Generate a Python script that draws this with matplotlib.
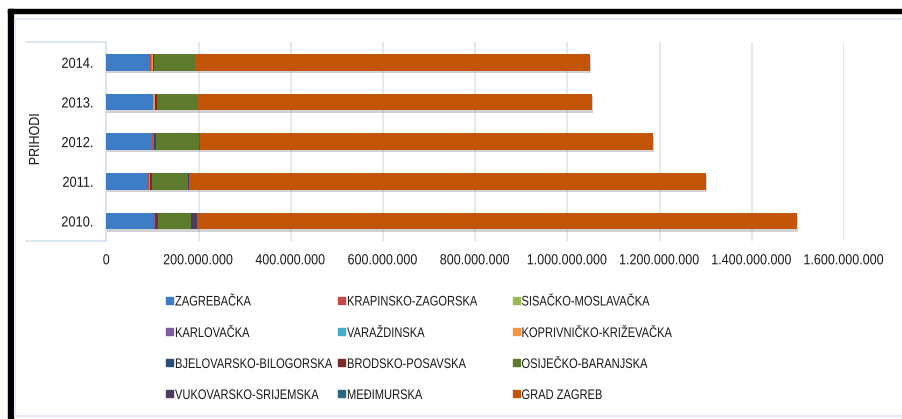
import matplotlib
matplotlib.use("Agg")
import matplotlib.pyplot as plt
from matplotlib.patches import Rectangle
from matplotlib.lines import Line2D
from matplotlib.ticker import FuncFormatter
from matplotlib.transforms import Affine2D
from matplotlib.patheffects import AbstractPathEffect, SimplePatchShadow, Normal
import numpy as np

plt.rcParams['font.family'] = ['Liberation Sans', 'DejaVu Sans']

years = ['2010.', '2011.', '2012.', '2013.', '2014.']
counties = ['ZAGREBAČKA', 'KRAPINSKO-ZAGORSKA', 'SISAČKO-MOSLAVAČKA',
            'KARLOVAČKA', 'VARAŽDINSKA', 'KOPRIVNIČKO-KRIŽEVAČKA',
            'BJELOVARSKO-BILOGORSKA', 'BRODSKO-POSAVSKA', 'OSIJEČKO-BARANJSKA',
            'VUKOVARSKO-SRIJEMSKA', 'MEĐIMURSKA', 'GRAD ZAGREB']

# values in kuna, per year 2010..2014
zagrebacka  = [102.0e6, 91.0e6, 100.0e6, 100.5e6, 95.0e6]
krapinsko   = [1.5e6, 1.2e6, 1.5e6, 1.5e6, 1.2e6]
sisacko     = [0.8e6, 0.6e6, 0.7e6, 0.7e6, 0.6e6]
karlovacka  = [0.6e6, 0.5e6, 0.5e6, 0.5e6, 0.5e6]
varazdinska = [1.0e6, 0.8e6, 1.0e6, 1.2e6, 2.5e6]
koprivnicko = [0.8e6, 0.6e6, 0.8e6, 0.8e6, 0.7e6]
bjelovarsko = [0.5e6, 0.4e6, 0.5e6, 0.5e6, 0.5e6]
brodsko     = [4.5e6, 3.0e6, 3.5e6, 4.0e6, 3.0e6]
osijecko    = [71.0e6, 80.0e6, 92.5e6, 89.0e6, 88.0e6]
vukovarsko  = [14.5e6, 0.8e6, 0.8e6, 0.8e6, 0.8e6]
medimurska  = [0.4e6, 0.3e6, 0.4e6, 0.4e6, 0.4e6]
grad_zagreb = [1300.0e6, 1122.0e6, 984.0e6, 853.0e6, 855.0e6]

series = [zagrebacka, krapinsko, sisacko, karlovacka, varazdinska, koprivnicko,
          bjelovarsko, brodsko, osijecko, vukovarsko, medimurska, grad_zagreb]
colors = ['#3E7CC6', '#BE4B48', '#98B954', '#7D5FA0', '#46AAC5', '#F69240',
          '#2C4D75', '#772C2A', '#5E7A2C', '#4D3B62', '#276A7C', '#C25508']


class Narrow(AbstractPathEffect):
    """Horizontally condense glyphs (emulates a narrow font)."""
    def __init__(self, sx=0.82, anchor='left'):
        super().__init__()
        self.sx = sx
        self.anchor = anchor

    def draw_path(self, renderer, gc, tpath, affine, rgbFace=None):
        ext = tpath.get_extents()
        if self.anchor == 'left':
            a = 0.0
        elif self.anchor == 'right':
            a = ext.x1
        else:
            a = 0.5 * (ext.x0 + ext.x1)
        tr = Affine2D().translate(-a, 0).scale(self.sx, 1).translate(a, 0) + affine
        renderer.draw_path(gc, tpath, tr, rgbFace)


W, H = 903, 419
fig = plt.figure(figsize=(W / 100, H / 100), dpi=100)

def fx(px):
    return px / W

def fy(py):
    return 1 - py / H

# outer frame: black top/left, light-blue inner border
fig.patches.append(Rectangle((fx(8), fy(419)), fx(5), fy(9) - fy(419), transform=fig.transFigure,
                             color='black', zorder=0))
fig.patches.append(Rectangle((fx(8), fy(13)), 1 - fx(8), fy(9) - fy(13), transform=fig.transFigure,
                             color='black', zorder=0))
fig.lines.append(Line2D([fx(15), fx(15)], [fy(19), fy(416)], transform=fig.transFigure,
                        color='#e1eaf5', lw=1.5))
fig.lines.append(Line2D([fx(15), 1], [fy(19), fy(19)], transform=fig.transFigure,
                        color='#e1eaf5', lw=1.5))
fig.lines.append(Line2D([fx(15), 1], [fy(416), fy(416)], transform=fig.transFigure,
                        color='#e1eaf5', lw=1.5))

ax_left, ax_right, ax_top, ax_bot = 106.3, 844.0, 42.5, 240.8
ax = fig.add_axes([fx(ax_left), fy(ax_bot), fx(ax_right - ax_left), fy(ax_top) - fy(ax_bot)])

y = np.arange(len(years))
left = np.zeros(len(years))
shadow = [SimplePatchShadow(offset=(0.8, -1.6), shadow_rgbFace='#808080', alpha=0.35), Normal()]
for vals, c, name in zip(series, colors, counties):
    bars = ax.barh(y, vals, left=left, height=0.42, color=c, label=name, zorder=3)
    for b in bars:
        b.set_path_effects(shadow)
    left = left + np.array(vals)

ax.set_xlim(0, 1.6e9)
ax.set_ylim(-0.5, len(years) - 0.5)
ax.set_xticks(np.arange(0, 1.6e9 + 1, 2e8))
ax.xaxis.set_major_formatter(FuncFormatter(lambda v, p: f"{int(round(v)):,}".replace(",", ".")))
ax.set_yticks(y)
ax.set_yticklabels(years)
ax.tick_params(axis='x', length=0, pad=9, labelsize=10.5, labelcolor='#1a1a1a')
ax.tick_params(axis='y', length=0, pad=9, labelsize=10.5, labelcolor='#1a1a1a')
for lbl in ax.get_xticklabels():
    lbl.set_path_effects([Narrow(0.86, 'center')])
for lbl in ax.get_yticklabels():
    lbl.set_path_effects([Narrow(0.88, 'right')])
ax.grid(axis='x', color='#dbe5f1', lw=1.2, zorder=0)
for s in ['top', 'right', 'bottom']:
    ax.spines[s].set_visible(False)
ax.spines['left'].set_color('#d6e2f0')
ax.spines['left'].set_linewidth(1.2)

# category box lines
for py in (ax_top, ax_bot):
    fig.lines.append(Line2D([fx(26), fx(ax_left)], [fy(py), fy(py)], transform=fig.transFigure,
                            color='#d6e2f0', lw=1.2))

fig.text(fx(35), fy(139), 'PRIHODI', rotation=90, ha='center', va='center',
         fontsize=10.5, color='#1a1a1a', path_effects=[Narrow(0.855, 'center')])

# legend (row-major, 3 columns)
col_x = [166.5, 338.5, 513.0]
row_y = [300.0, 331.5, 362.5, 393.5]
for i, (name, c) in enumerate(zip(counties, colors)):
    r, cidx = divmod(i, 3)
    x0 = col_x[cidx]
    yc = row_y[r]
    fig.patches.append(Rectangle((fx(x0), fy(yc + 3.5)), fx(7), fy(yc - 3.5) - fy(yc + 3.5),
                                 transform=fig.transFigure, color=c))
    fig.text(fx(x0 + 8.5), fy(yc), name, ha='left', va='center_baseline', fontsize=10,
             color='#1a1a1a', path_effects=[Narrow(0.80, 'left')])

fig.savefig('out.png', dpi=100)
